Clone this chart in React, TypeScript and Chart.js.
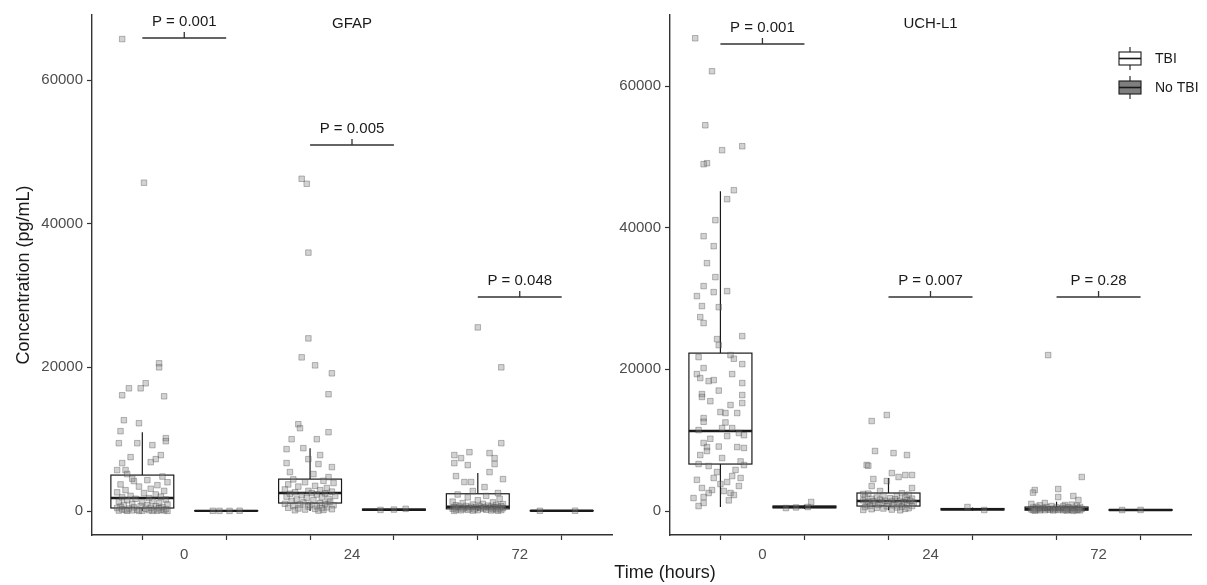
import React, { useEffect, useRef } from 'react';
import { Chart, registerables } from 'chart.js';

Chart.register(...registerables);

const FONT = '"Liberation Sans", Arial, Helvetica, sans-serif';

// ---------- data ----------
const timeCategories = ['0', '24', '72'];
const groupLabels = ['TBI', 'No TBI'];
const yTickValues = [0, 20000, 40000, 60000];

// box stats per time point: [lower whisker, Q1, median, Q3, upper whisker]
const gfapTbiBoxes = [
  [0, 417, 1800, 5000, 10970],
  [0, 1110, 2500, 4440, 8750],
  [0, 300, 600, 2400, 5300],
];
const gfapNoTbiBoxes = [
  [0, 5, 20, 60, 120],
  [40, 120, 180, 260, 350],
  [0, 10, 30, 60, 100],
];
const uchTbiBoxes = [
  [560, 6630, 11290, 22290, 45150],
  [100, 700, 1410, 2540, 4660],
  [0, 120, 280, 560, 1300],
];
const uchNoTbiBoxes = [
  [300, 450, 560, 700, 900],
  [50, 150, 250, 350, 500],
  [50, 100, 150, 200, 250],
];

const gfapPLabels = ['P = 0.001', 'P = 0.005', 'P = 0.048'];
const gfapPBracket = [65846, 50951, 29791];
const uchPLabels = ['P = 0.001', 'P = 0.007', 'P = 0.28'];
const uchPBracket = [65929, 30212, 30212];

// individual observations: [horizontal jitter (category units), concentration]
const gfapTbi0 = [
  [-0.12, 65700], [0.01, 45700], [0.10, 20560], [0.10, 20000], [0.02, 17780], [-0.01, 17080], [-0.08, 17080],
  [-0.12, 16110], [0.13, 15970], [-0.11, 12640], [-0.02, 12220], [-0.13, 11110], [0.14, 10140], [0.14, 9720],
  [-0.14, 9440], [-0.03, 9440], [0.06, 9170], [-0.07, 7500], [0.11, 7780], [0.08, 7220], [0.05, 6800],
  [-0.12, 6670], [-0.15, 5700], [-0.10, 5700], [-0.09, 5140], [-0.05, 4170],
  [0.12, 4800], [-0.06, 4500], [0.03, 4300], [0.15, 4000], [-0.13, 3700], [0.09, 3600], [-0.02, 3400],
  [0.05, 3100], [-0.10, 2900], [0.13, 2800], [-0.15, 2600], [0.01, 2500], [0.08, 2300], [-0.07, 2100],
  [0.11, 2000], [-0.12, 1900], [0.04, 1800], [-0.04, 1700], [0.14, 1600], [-0.09, 1500], [0.06, 1400],
  [-0.14, 1300], [0.00, 1200], [0.10, 1100], [-0.06, 1000], [0.15, 900], [-0.11, 850], [0.03, 800],
  [-0.01, 700], [0.08, 650], [-0.13, 600], [0.12, 550], [-0.05, 500], [0.05, 450], [-0.15, 420],
  [0.10, 380], [-0.08, 340], [0.02, 300], [0.14, 260], [-0.12, 230], [0.07, 200], [-0.03, 180],
  [0.11, 150], [-0.10, 130], [0.04, 110], [-0.06, 90], [0.13, 80], [-0.14, 60], [0.00, 50],
  [0.09, 40], [-0.09, 30], [0.06, 20], [-0.02, 15], [0.15, 10],
];
const gfapTbi24 = [
  [-0.05, 46250], [-0.02, 45560], [-0.01, 35970], [-0.01, 24030], [-0.05, 21390], [0.03, 20280], [0.13, 19170],
  [0.11, 16250], [-0.07, 12080], [-0.06, 11530], [-0.11, 10000], [0.04, 10000], [0.11, 10970], [-0.14, 8610],
  [-0.04, 8750], [-0.01, 7220], [0.06, 7780], [-0.14, 6670], [0.05, 6530], [0.13, 6110], [-0.12, 5420],
  [0.02, 5140], [0.11, 4720],
  [-0.10, 4400], [0.08, 4200], [-0.03, 4000], [0.14, 3900], [-0.13, 3700], [0.03, 3500], [-0.07, 3400],
  [0.10, 3200], [-0.15, 3000], [0.06, 2900], [-0.01, 2800], [0.13, 2700], [-0.09, 2600], [0.01, 2500],
  [0.09, 2450], [-0.12, 2400], [0.04, 2300], [-0.05, 2200], [0.15, 2100], [-0.14, 2000], [0.07, 1900],
  [-0.02, 1800], [0.11, 1700], [-0.08, 1600], [0.02, 1500], [-0.11, 1400], [0.12, 1300], [-0.04, 1200],
  [0.06, 1100], [-0.15, 1000], [0.09, 950], [-0.06, 900], [0.00, 850], [0.14, 800], [-0.10, 700],
  [0.04, 650], [-0.01, 600], [0.10, 500], [-0.13, 450], [0.07, 400], [-0.07, 350], [0.03, 300],
  [0.13, 250], [-0.03, 200], [0.08, 150], [-0.09, 100], [0.05, 60],
];
const gfapTbi72 = [
  [0.00, 25560], [0.14, 20000], [0.14, 9440], [-0.05, 8190], [-0.14, 7780], [-0.10, 7360], [0.07, 8060],
  [0.10, 7360], [-0.14, 6670], [-0.06, 6390], [0.10, 6530], [0.07, 5420], [-0.13, 4860], [-0.08, 4030],
  [-0.04, 4030], [0.15, 4440], [0.04, 3330], [0.12, 2500], [-0.03, 2780],
  [-0.12, 2300], [0.05, 2100], [-0.06, 1900], [0.13, 1700], [0.00, 1500], [-0.15, 1300], [0.09, 1200],
  [-0.09, 1100], [0.03, 1000], [0.15, 950], [-0.03, 900], [0.11, 850], [-0.13, 800], [0.06, 750],
  [-0.07, 700], [0.01, 680], [0.14, 650], [-0.11, 620], [0.08, 600], [-0.04, 580], [0.12, 560],
  [-0.14, 540], [0.04, 520], [-0.01, 500], [0.10, 480], [-0.08, 460], [0.02, 440], [-0.12, 420],
  [0.15, 400], [0.07, 380], [-0.05, 360], [0.13, 340], [-0.15, 320], [0.03, 300], [-0.09, 280],
  [0.09, 260], [-0.02, 240], [0.11, 220], [-0.13, 200], [0.05, 180], [-0.06, 160], [0.14, 140],
  [0.00, 120], [-0.10, 100], [0.08, 80], [-0.03, 60], [0.12, 40], [-0.14, 20],
];
const gfapNoTbi0 = [[-0.08, 30], [-0.04, 20], [0.08, 40], [0.02, 10]];
const gfapNoTbi24 = [[-0.08, 150], [0.00, 200], [0.07, 300]];
const gfapNoTbi72 = [[-0.13, 30], [0.08, 40]];

const uchTbi0 = [
  [-0.15, 66740], [-0.05, 62080], [-0.09, 54460], [0.01, 50940], [0.13, 51500], [-0.08, 49100], [-0.10, 48960],
  [0.08, 45290], [0.04, 44020], [-0.03, 41060], [-0.10, 38800], [-0.04, 37390], [-0.08, 34990], [-0.03, 33020],
  [-0.10, 31750], [-0.04, 30900], [0.04, 31040], [-0.14, 30340], [-0.11, 28930], [-0.01, 28780], [-0.12, 27370],
  [-0.10, 26530], [0.13, 24690], [-0.02, 24270], [-0.01, 23420], [-0.13, 21730], [0.06, 22010], [0.13, 20740],
  [-0.10, 20180], [-0.14, 19330], [-0.12, 18770], [-0.07, 18340], [0.07, 19330], [-0.04, 18480], [0.13, 18060],
  [-0.11, 16510], [-0.11, 16100], [0.13, 16370], [0.13, 15240], [0.06, 14960], [0.00, 13970], [0.03, 13830],
  [0.10, 13830], [-0.10, 13120], [-0.10, 12600], [0.01, 11710], [0.07, 11710], [-0.13, 11430], [0.11, 11010],
  [0.14, 10700], [0.04, 10580], [-0.10, 9600], [-0.08, 9030], [-0.01, 9100], [0.10, 9030], [0.14, 8900],
  [-0.12, 7900], [-0.08, 8470], [0.01, 7480], [-0.13, 6630], [-0.07, 6350], [0.14, 6490], [0.07, 4940],
  [0.12, 4660], [-0.04, 4660], [0.04, 4090], [-0.11, 3250], [-0.05, 2960], [0.11, 3530], [0.02, 2820],
  [0.06, 2540], [0.08, 2260], [-0.16, 1830], [-0.10, 1975], [-0.07, 2540], [-0.10, 1130], [-0.13, 700],
  [0.05, 1500], [-0.02, 5500], [0.09, 5800], [0.00, 3800], [-0.14, 4400], [0.12, 7000], [-0.06, 10200],
  [0.03, 12500], [-0.01, 17000], [0.08, 21500], [-0.06, 15500],
];
const uchTbi24 = [
  [-0.01, 13550], [-0.10, 12700], [-0.08, 8470], [0.03, 8180], [0.11, 7900], [-0.13, 6490], [-0.12, 6400],
  [0.02, 5360], [0.10, 5080], [0.14, 5080], [0.06, 4800], [-0.09, 4520], [-0.01, 4230], [-0.10, 3530],
  [0.14, 3250], [-0.15, 2400], [-0.05, 2820],
  [0.08, 2500], [-0.12, 2450], [0.12, 2300], [-0.03, 2200], [0.05, 2100], [-0.14, 2000], [0.10, 1950],
  [-0.07, 1900], [0.01, 1800], [0.14, 1750], [-0.10, 1700], [0.04, 1650], [-0.05, 1600], [0.11, 1550],
  [-0.15, 1500], [0.07, 1450], [-0.02, 1420], [0.13, 1400], [-0.09, 1380], [0.02, 1350], [-0.12, 1300],
  [0.09, 1250], [-0.04, 1200], [0.15, 1150], [-0.08, 1100], [0.00, 1050], [0.06, 1000], [-0.13, 950],
  [0.11, 900], [-0.06, 850], [0.03, 800], [-0.11, 750], [0.14, 700], [-0.01, 650], [0.08, 600],
  [-0.14, 550], [0.05, 500], [-0.07, 450], [0.12, 400], [-0.03, 350], [0.10, 300], [-0.10, 250],
  [0.02, 200], [-0.15, 150], [0.07, 100],
];
const uchTbi72 = [
  [-0.05, 22010], [0.15, 4800], [-0.13, 2960], [-0.14, 2600], [0.01, 3100], [0.01, 1970], [0.10, 2120],
  [0.13, 1550], [-0.07, 1130], [0.05, 850],
  [-0.15, 1000], [0.09, 900], [-0.10, 800], [0.12, 750], [-0.03, 700], [0.04, 650], [-0.12, 600],
  [0.14, 580], [-0.06, 550], [0.07, 520], [0.00, 500], [-0.14, 480], [0.10, 450], [-0.08, 420],
  [0.03, 400], [0.13, 380], [-0.11, 360], [0.06, 340], [-0.02, 320], [0.15, 300], [-0.13, 290],
  [0.08, 280], [-0.05, 270], [0.02, 260], [-0.09, 250], [0.11, 240], [-0.15, 230], [0.05, 220],
  [-0.01, 210], [0.13, 200], [-0.12, 190], [0.07, 180], [-0.04, 170], [0.09, 160], [-0.14, 150],
  [0.01, 140], [0.12, 130], [-0.07, 120], [0.04, 110], [-0.10, 100], [0.14, 90], [-0.02, 80],
  [0.06, 60], [-0.13, 40], [0.10, 20],
];
const uchNoTbi0 = [[-0.11, 420], [0.02, 560], [0.04, 1270], [-0.05, 500]];
const uchNoTbi24 = [[-0.03, 560], [0.07, 140]];
const uchNoTbi72 = [[-0.11, 140], [0.00, 150]];

// ---------- panel ----------
type PanelProps = {
  title: string;
  tbiBoxes: number[][];
  noTbiBoxes: number[][];
  tbiPoints: number[][][];
  noTbiPoints: number[][][];
  pLabels: string[];
  pBracket: number[];
  yMin: number;
  yMax: number;
  left: number;
  width: number;
  axisWidth: number;
  padRight: number;
  showYTitle: boolean;
  showLegend: boolean;
};

const DODGE = 0.25;
const HALF_BOX = 0.1875;
const INK = '#1a1a1a';
const AXIS = '#333333';
const NO_TBI_FILL = '#7f7f7f';

function Panel(props: PanelProps) {
  const ref = useRef<HTMLCanvasElement | null>(null);

  useEffect(() => {
    const canvas = ref.current;
    if (!canvas) return;

    const toPoints = (groups: number[][][], shift: number) =>
      groups.flatMap((g, i) => g.map(([dx, v]) => ({ x: i + 1 + shift + dx, y: v })));

    const xTicks: number[] = [];
    timeCategories.forEach((_, i) => {
      xTicks.push(i + 1 - DODGE, i + 1, i + 1 + DODGE);
    });

    const drawBox = (chart: any, pos: number, stats: number[], fill: string) => {
      const { ctx, scales } = chart;
      const x = scales.x;
      const y = scales.y;
      const [lo, q1, med, q3, hi] = stats;
      const xl = x.getPixelForValue(pos - HALF_BOX);
      const xr = x.getPixelForValue(pos + HALF_BOX);
      const xc = x.getPixelForValue(pos);
      const yLo = y.getPixelForValue(lo);
      const yQ1 = y.getPixelForValue(q1);
      const yMed = y.getPixelForValue(med);
      const yQ3 = y.getPixelForValue(q3);
      const yHi = y.getPixelForValue(hi);
      ctx.save();
      ctx.strokeStyle = INK;
      ctx.lineWidth = 1.2;
      ctx.beginPath();
      ctx.moveTo(xc, yQ3);
      ctx.lineTo(xc, yHi);
      ctx.moveTo(xc, yQ1);
      ctx.lineTo(xc, yLo);
      ctx.stroke();
      ctx.fillStyle = fill;
      ctx.fillRect(xl, yQ3, xr - xl, yQ1 - yQ3);
      ctx.strokeRect(xl, yQ3, xr - xl, yQ1 - yQ3);
      ctx.lineWidth = 2.4;
      ctx.beginPath();
      ctx.moveTo(xl, yMed);
      ctx.lineTo(xr, yMed);
      ctx.stroke();
      ctx.restore();
    };

    const panelPlugin = {
      id: 'panelDecor',
      beforeDatasetsDraw(chart: any) {
        props.tbiBoxes.forEach((s, i) => drawBox(chart, i + 1 - DODGE, s, '#ffffff'));
        props.noTbiBoxes.forEach((s, i) => drawBox(chart, i + 1 + DODGE, s, NO_TBI_FILL));
      },
      afterDatasetsDraw(chart: any) {
        const { ctx, scales } = chart;
        const x = scales.x;
        const y = scales.y;
        ctx.save();
        props.pLabels.forEach((label, i) => {
          const x1 = x.getPixelForValue(i + 1 - DODGE);
          const x2 = x.getPixelForValue(i + 1 + DODGE);
          const xc = x.getPixelForValue(i + 1);
          const yb = y.getPixelForValue(props.pBracket[i]);
          ctx.strokeStyle = AXIS;
          ctx.lineWidth = 1.3;
          ctx.beginPath();
          ctx.moveTo(x1, yb);
          ctx.lineTo(x2, yb);
          ctx.moveTo(xc, yb);
          ctx.lineTo(xc, yb - 6);
          ctx.stroke();
          ctx.fillStyle = INK;
          ctx.font = `15px ${FONT}`;
          ctx.textAlign = 'center';
          ctx.textBaseline = 'alphabetic';
          ctx.fillText(label, xc, yb - 12);
        });
        ctx.restore();
      },
      afterDraw(chart: any) {
        const { ctx, chartArea } = chart;
        ctx.save();
        ctx.fillStyle = INK;
        ctx.font = `15px ${FONT}`;
        ctx.textAlign = 'center';
        ctx.textBaseline = 'alphabetic';
        ctx.fillText(props.title, (chartArea.left + chartArea.right) / 2, 28);
        if (props.showLegend) {
          const kx = chartArea.right - 72;
          const kw = 22;
          const items = [
            { label: groupLabels[0], fill: '#ffffff', top: 47 },
            { label: groupLabels[1], fill: NO_TBI_FILL, top: 76 },
          ];
          items.forEach((it) => {
            const cx = kx + kw / 2;
            ctx.strokeStyle = INK;
            ctx.lineWidth = 1.1;
            ctx.beginPath();
            ctx.moveTo(cx, it.top);
            ctx.lineTo(cx, it.top + 23);
            ctx.stroke();
            ctx.fillStyle = it.fill;
            ctx.fillRect(kx, it.top + 5, kw, 13);
            ctx.strokeRect(kx, it.top + 5, kw, 13);
            ctx.lineWidth = 1.6;
            ctx.beginPath();
            ctx.moveTo(kx, it.top + 11.5);
            ctx.lineTo(kx + kw, it.top + 11.5);
            ctx.stroke();
            ctx.fillStyle = INK;
            ctx.font = `14px ${FONT}`;
            ctx.textAlign = 'left';
            ctx.textBaseline = 'middle';
            ctx.fillText(it.label, kx + 36, it.top + 12);
          });
        }
        ctx.restore();
      },
    };

    const pointStyle = {
      pointStyle: 'rect' as const,
      pointRadius: 3.9,
      pointBackgroundColor: 'rgba(130,130,130,0.36)',
      pointBorderColor: 'rgba(70,70,70,0.36)',
      pointBorderWidth: 1,
      showLine: false,
    };

    const chart = new Chart(canvas, {
      type: 'scatter',
      data: {
        datasets: [
          { label: groupLabels[0], data: toPoints(props.tbiPoints, -DODGE), ...pointStyle },
          { label: groupLabels[1], data: toPoints(props.noTbiPoints, DODGE), ...pointStyle },
        ],
      },
      options: {
        responsive: false,
        animation: false,
        devicePixelRatio: 1,
        layout: { padding: { left: 0, right: props.padRight, top: 15, bottom: 0 } },
        plugins: { legend: { display: false }, tooltip: { enabled: false }, title: { display: false } },
        scales: {
          x: {
            type: 'linear',
            min: 0.45,
            max: 3.55,
            afterBuildTicks: (scale: any) => {
              scale.ticks = xTicks.map((v) => ({ value: v }));
            },
            afterFit: (scale: any) => {
              scale.height = 50;
            },
            grid: {
              drawOnChartArea: false,
              drawTicks: true,
              tickLength: 5,
              tickWidth: 1.2,
              tickColor: (c: any) =>
                c.tick && Number.isInteger(c.tick.value) ? 'rgba(0,0,0,0)' : AXIS,
            },
            border: { display: true, color: AXIS, width: 1.4 },
            ticks: {
              autoSkip: false,
              maxRotation: 0,
              padding: 6,
              color: '#4d4d4d',
              font: { family: FONT, size: 15 },
              callback: (v: any) => {
                const n = Number(v);
                return Number.isInteger(n) ? timeCategories[n - 1] : '';
              },
            },
          },
          y: {
            type: 'linear',
            min: props.yMin,
            max: props.yMax,
            afterBuildTicks: (scale: any) => {
              scale.ticks = yTickValues.map((v) => ({ value: v }));
            },
            afterFit: (scale: any) => {
              scale.width = props.axisWidth;
            },
            grid: { drawOnChartArea: false, drawTicks: true, tickLength: 5, tickWidth: 1.2, tickColor: AXIS },
            border: { display: true, color: AXIS, width: 1.4 },
            ticks: {
              padding: 4,
              color: '#4d4d4d',
              font: { family: FONT, size: 15 },
              callback: (v: any) => String(v),
            },
            title: {
              display: props.showYTitle,
              text: 'Concentration (pg/mL)',
              color: INK,
              font: { family: FONT, size: 18 },
              padding: { top: 13, bottom: 0 },
            },
          },
        },
      },
      plugins: [panelPlugin],
    } as any);

    return () => chart.destroy();
  }, []);

  return (
    <canvas
      ref={ref}
      width={props.width}
      height={585}
      style={{ position: 'absolute', left: props.left, top: 0, width: props.width, height: 585 }}
    />
  );
}

export default function App() {
  return (
    <div
      style={{
        position: 'absolute',
        left: 0,
        top: 0,
        width: 1207,
        height: 585,
        background: '#ffffff',
        fontFamily: FONT,
        overflow: 'hidden',
      }}
    >
      <Panel
        title="GFAP"
        tbiBoxes={gfapTbiBoxes}
        noTbiBoxes={gfapNoTbiBoxes}
        tbiPoints={[gfapTbi0, gfapTbi24, gfapTbi72]}
        noTbiPoints={[gfapNoTbi0, gfapNoTbi24, gfapNoTbi72]}
        pLabels={gfapPLabels}
        pBracket={gfapPBracket}
        yMin={-3341}
        yMax={69049}
        left={0}
        width={630}
        axisWidth={92}
        padRight={18}
        showYTitle={true}
        showLegend={false}
      />
      <Panel
        title="UCH-L1"
        tbiBoxes={uchTbiBoxes}
        noTbiBoxes={uchNoTbiBoxes}
        tbiPoints={[uchTbi0, uchTbi24, uchTbi72]}
        noTbiPoints={[uchNoTbi0, uchNoTbi24, uchNoTbi72]}
        pLabels={uchPLabels}
        pBracket={uchPBracket}
        yMin={-3388}
        yMax={70024}
        left={600}
        width={607}
        axisWidth={70}
        padRight={16}
        showYTitle={false}
        showLegend={true}
      />
      <div
        style={{
          position: 'absolute',
          left: 565,
          top: 563,
          width: 200,
          textAlign: 'center',
          fontSize: 18,
          lineHeight: '18px',
          color: INK,
        }}
      >
        Time (hours)
      </div>
    </div>
  );
}
